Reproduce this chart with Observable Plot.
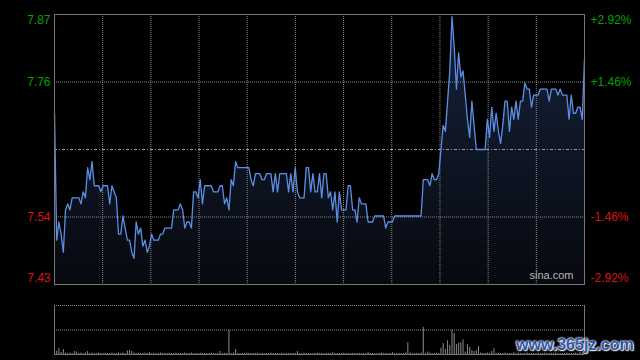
<!DOCTYPE html>
<html>
<head>
<meta charset="utf-8">
<script src="https://cdn.jsdelivr.net/npm/d3@7"></script>
<script src="https://cdn.jsdelivr.net/npm/@observablehq/plot@0.6"></script>
<style>
  html, body { margin: 0; padding: 0; background: #000; }
  #wrap { position: relative; width: 640px; height: 360px; overflow: hidden; background: #000; }
  #wrap svg { display: block; }
  #wm { position: absolute; left: 516px; top: 337px; font: bold 16px "Liberation Sans", Arial, sans-serif;
        line-height: 16px; color: #2b55a8; white-space: nowrap;
        text-shadow: 0 0 2px #fff, 0 0 2px #fff, 0 0 1px #fff, 1px 1px 1px #ddd; }
</style>
</head>
<body>
<div id="wrap"></div>
<script>
// ---- data ----
const base = 7.65; // previous close
const pctTicks = [2.92, 1.46, -1.46, -2.92];
const priceTickLabels = ["7.87", "7.76", "7.54", "7.43"];
const pctTickLabels = ["+2.92%", "+1.46%", "-1.46%", "-2.92%"];
const watermark = "sina.com";
const siteMark = "www.365jz.com";

const minutes = [0,1,2,3,4,5,6,7,8,9,11,12,13,14,15,16,17,18,20,21,22,24,25,26,27,28,29,30,31,32,33,34,35,36,37,38,39,40,41,42,43,44,45,47,48,49,50,53,54,56,57,58,59,60,61,62,63,64,65,66,67,68,71,72,74,75,76,77,78,79,80,81,82,83,88,89,90,91,93,94,95,96,98,99,100,101,102,105,106,107,108,109,110,111,113,114,115,116,117,118,119,120,121,122,123,124,125,126,127,128,129,130,132,133,134,135,136,137,138,139,141,142,144,145,149,150,151,153,154,166,167,169,170,171,172,173,174,175,176,177,178,179,180,181,182,183,184,185,186,187,188,189,190,191,195,196,197,198,199,200,201,202,203,204,205,206,207,208,209,210,211,212,213,214,215,216,217,219,220,223,224,225,227,228,229,230,232,233,234,235,236,237,238,239,240];
const prices = [7.71,7.50,7.53,7.51,7.48,7.55,7.56,7.55,7.57,7.57,7.57,7.56,7.58,7.57,7.62,7.60,7.63,7.59,7.59,7.58,7.59,7.59,7.56,7.59,7.58,7.57,7.51,7.51,7.54,7.52,7.50,7.50,7.48,7.47,7.53,7.51,7.52,7.49,7.50,7.48,7.49,7.51,7.50,7.50,7.51,7.51,7.52,7.52,7.55,7.55,7.56,7.55,7.52,7.53,7.53,7.52,7.58,7.58,7.57,7.60,7.56,7.59,7.59,7.58,7.58,7.59,7.59,7.56,7.57,7.55,7.60,7.59,7.63,7.62,7.62,7.60,7.59,7.61,7.61,7.60,7.60,7.61,7.61,7.58,7.61,7.58,7.61,7.61,7.58,7.61,7.58,7.62,7.58,7.57,7.57,7.62,7.62,7.58,7.61,7.58,7.58,7.61,7.57,7.61,7.61,7.57,7.58,7.55,7.58,7.53,7.58,7.55,7.55,7.59,7.59,7.55,7.55,7.53,7.57,7.56,7.56,7.53,7.53,7.54,7.54,7.52,7.53,7.53,7.54,7.54,7.60,7.60,7.59,7.61,7.60,7.60,7.61,7.65,7.69,7.68,7.73,7.78,7.87,7.82,7.75,7.81,7.77,7.78,7.74,7.70,7.67,7.73,7.69,7.65,7.65,7.70,7.67,7.72,7.68,7.71,7.68,7.66,7.69,7.73,7.73,7.68,7.72,7.70,7.73,7.70,7.73,7.73,7.76,7.75,7.75,7.72,7.74,7.74,7.75,7.75,7.73,7.75,7.75,7.74,7.75,7.74,7.74,7.70,7.74,7.71,7.71,7.72,7.72,7.70,7.80];

// volume per minute (relative units, 100 = top of volume panel)
const volume = [
  5,7,12,4,10,3,2,3,2,6,5,2,3,2,3,6,2,3,2,2,
  3,2,2,3,2,2,3,2,2,3,2,3,2,7,8,6,3,2,3,2,
  2,3,2,4,2,3,2,2,3,2,2,2,3,2,2,3,2,2,2,3,
  2,2,3,2,2,2,3,2,2,2,2,3,2,2,2,6,2,2,2,49,
  2,3,10,2,2,2,2,3,2,2,2,2,3,2,2,2,2,2,3,2,
  2,2,2,3,2,2,2,2,2,2,6,2,2,3,2,2,2,2,2,3,
  2,2,2,2,2,2,4,2,2,2,2,3,2,2,2,2,2,2,2,2,
  2,2,4,2,2,2,2,2,3,2,2,2,2,4,2,2,2,2,2,3,
  24,3,2,2,2,2,3,55,2,5,3,2,2,3,2,13,22,10,28,18,
  50,43,20,23,24,30,5,20,14,8,6,8,16,3,2,2,3,2,6,12,
  2,3,2,2,3,2,2,2,4,2,3,2,2,2,3,2,2,2,2,3,
  2,2,3,2,2,2,2,3,2,2,2,2,3,2,2,2,3,2,4,3,
  6
];

// ---- derived ----
const maxPct = pctTicks[0] / 100;
const yDomain = [base * (1 - maxPct), base * (1 + maxPct)];
const priceData = minutes.map((t, i) => ({t, p: prices[i]}));
const volData = volume.map((v, t) => ({t, v}));
const ticks = pctTicks.map((pct, i) => ({
  i, pct, price: base * (1 + pct / 100), left: priceTickLabels[i], right: pctTickLabels[i]
}));
const innerTicks = ticks.filter(d => d.i === 1 || d.i === 2);
const gridMinutes = d3.range(1, 11).map(k => k * 240 / 11);

const font = "Liberation Sans, Arial, sans-serif";
const green = "#00a000", red = "#dd1111";
const grid = {stroke: "#8a8a8a", strokeDasharray: "1,1", strokeWidth: 1};

function labelMarks(filterFn, color, dy) {
  const rows = ticks.filter(filterFn);
  return [
    Plot.text(rows, {y: "price", text: "left", frameAnchor: "left", dx: -4, dy, textAnchor: "end", fill: color, fontSize: 12}),
    Plot.text(rows, {y: "price", text: "right", frameAnchor: "right", dx: 6, dy, textAnchor: "start", fill: color, fontSize: 12})
  ];
}

const pricePlot = Plot.plot({
  width: 640, height: 290,
  marginLeft: 54, marginRight: 56, marginTop: 14, marginBottom: 6,
  style: {background: "transparent", color: "#ccc", fontFamily: font, overflow: "visible"},
  x: {domain: [0, 240], axis: null},
  y: {domain: yDomain, axis: null},
  marks: [
    Plot.areaY(priceData, {x: "t", y1: () => yDomain[0], y2: "p", fill: "url(#priceGrad)"}),
    Plot.ruleX(gridMinutes, grid),
    Plot.ruleY(innerTicks.map(d => d.price), grid),
    Plot.ruleY([base], {stroke: "#999", strokeDasharray: "3,2,1,2", strokeWidth: 1}),
    Plot.lineY(priceData, {x: "t", y: "p", stroke: "#5b8fe6", strokeWidth: 1.3, strokeLinejoin: "round"}),
    Plot.frame({stroke: "#777"}),
    ...labelMarks(d => d.i === 0, green, 6),
    ...labelMarks(d => d.i === 1, green, 0),
    ...labelMarks(d => d.i === 2, red, 0),
    ...labelMarks(d => d.i === 3, red, -6),
    Plot.text([watermark], {text: d => d, frameAnchor: "bottom-right", dx: -11, dy: -6, textAnchor: "end", lineAnchor: "bottom", fill: "#b8b8b8", fontSize: 11})
  ]
});

d3.select(pricePlot).insert("defs", ":first-child").html(
  `<linearGradient id="priceGrad" x1="0" y1="0" x2="0" y2="1">
     <stop offset="0" stop-color="#16233b"/>
     <stop offset="1" stop-color="#07090f"/>
   </linearGradient>`);

const volPlot = Plot.plot({
  width: 640, height: 70,
  marginLeft: 54, marginRight: 56, marginTop: 15, marginBottom: 6,
  style: {background: "transparent", color: "#ccc", fontFamily: font},
  x: {domain: [0, 240], axis: null},
  y: {domain: [0, 100], axis: null},
  marks: [
    Plot.ruleY([100, 50], grid),
    Plot.ruleX(volData, {x: "t", y1: 0, y2: "v", stroke: "#8c8c8c", strokeWidth: 1}),
    Plot.ruleY([0], {stroke: "#777"}),
    Plot.ruleX([0, 240], {stroke: "#777"})
  ]
});

const wrap = document.getElementById("wrap");
wrap.appendChild(pricePlot);
wrap.appendChild(volPlot);
const wm = document.createElement("div");
wm.id = "wm";
wm.textContent = siteMark;
wrap.appendChild(wm);
</script>
</body>
</html>
